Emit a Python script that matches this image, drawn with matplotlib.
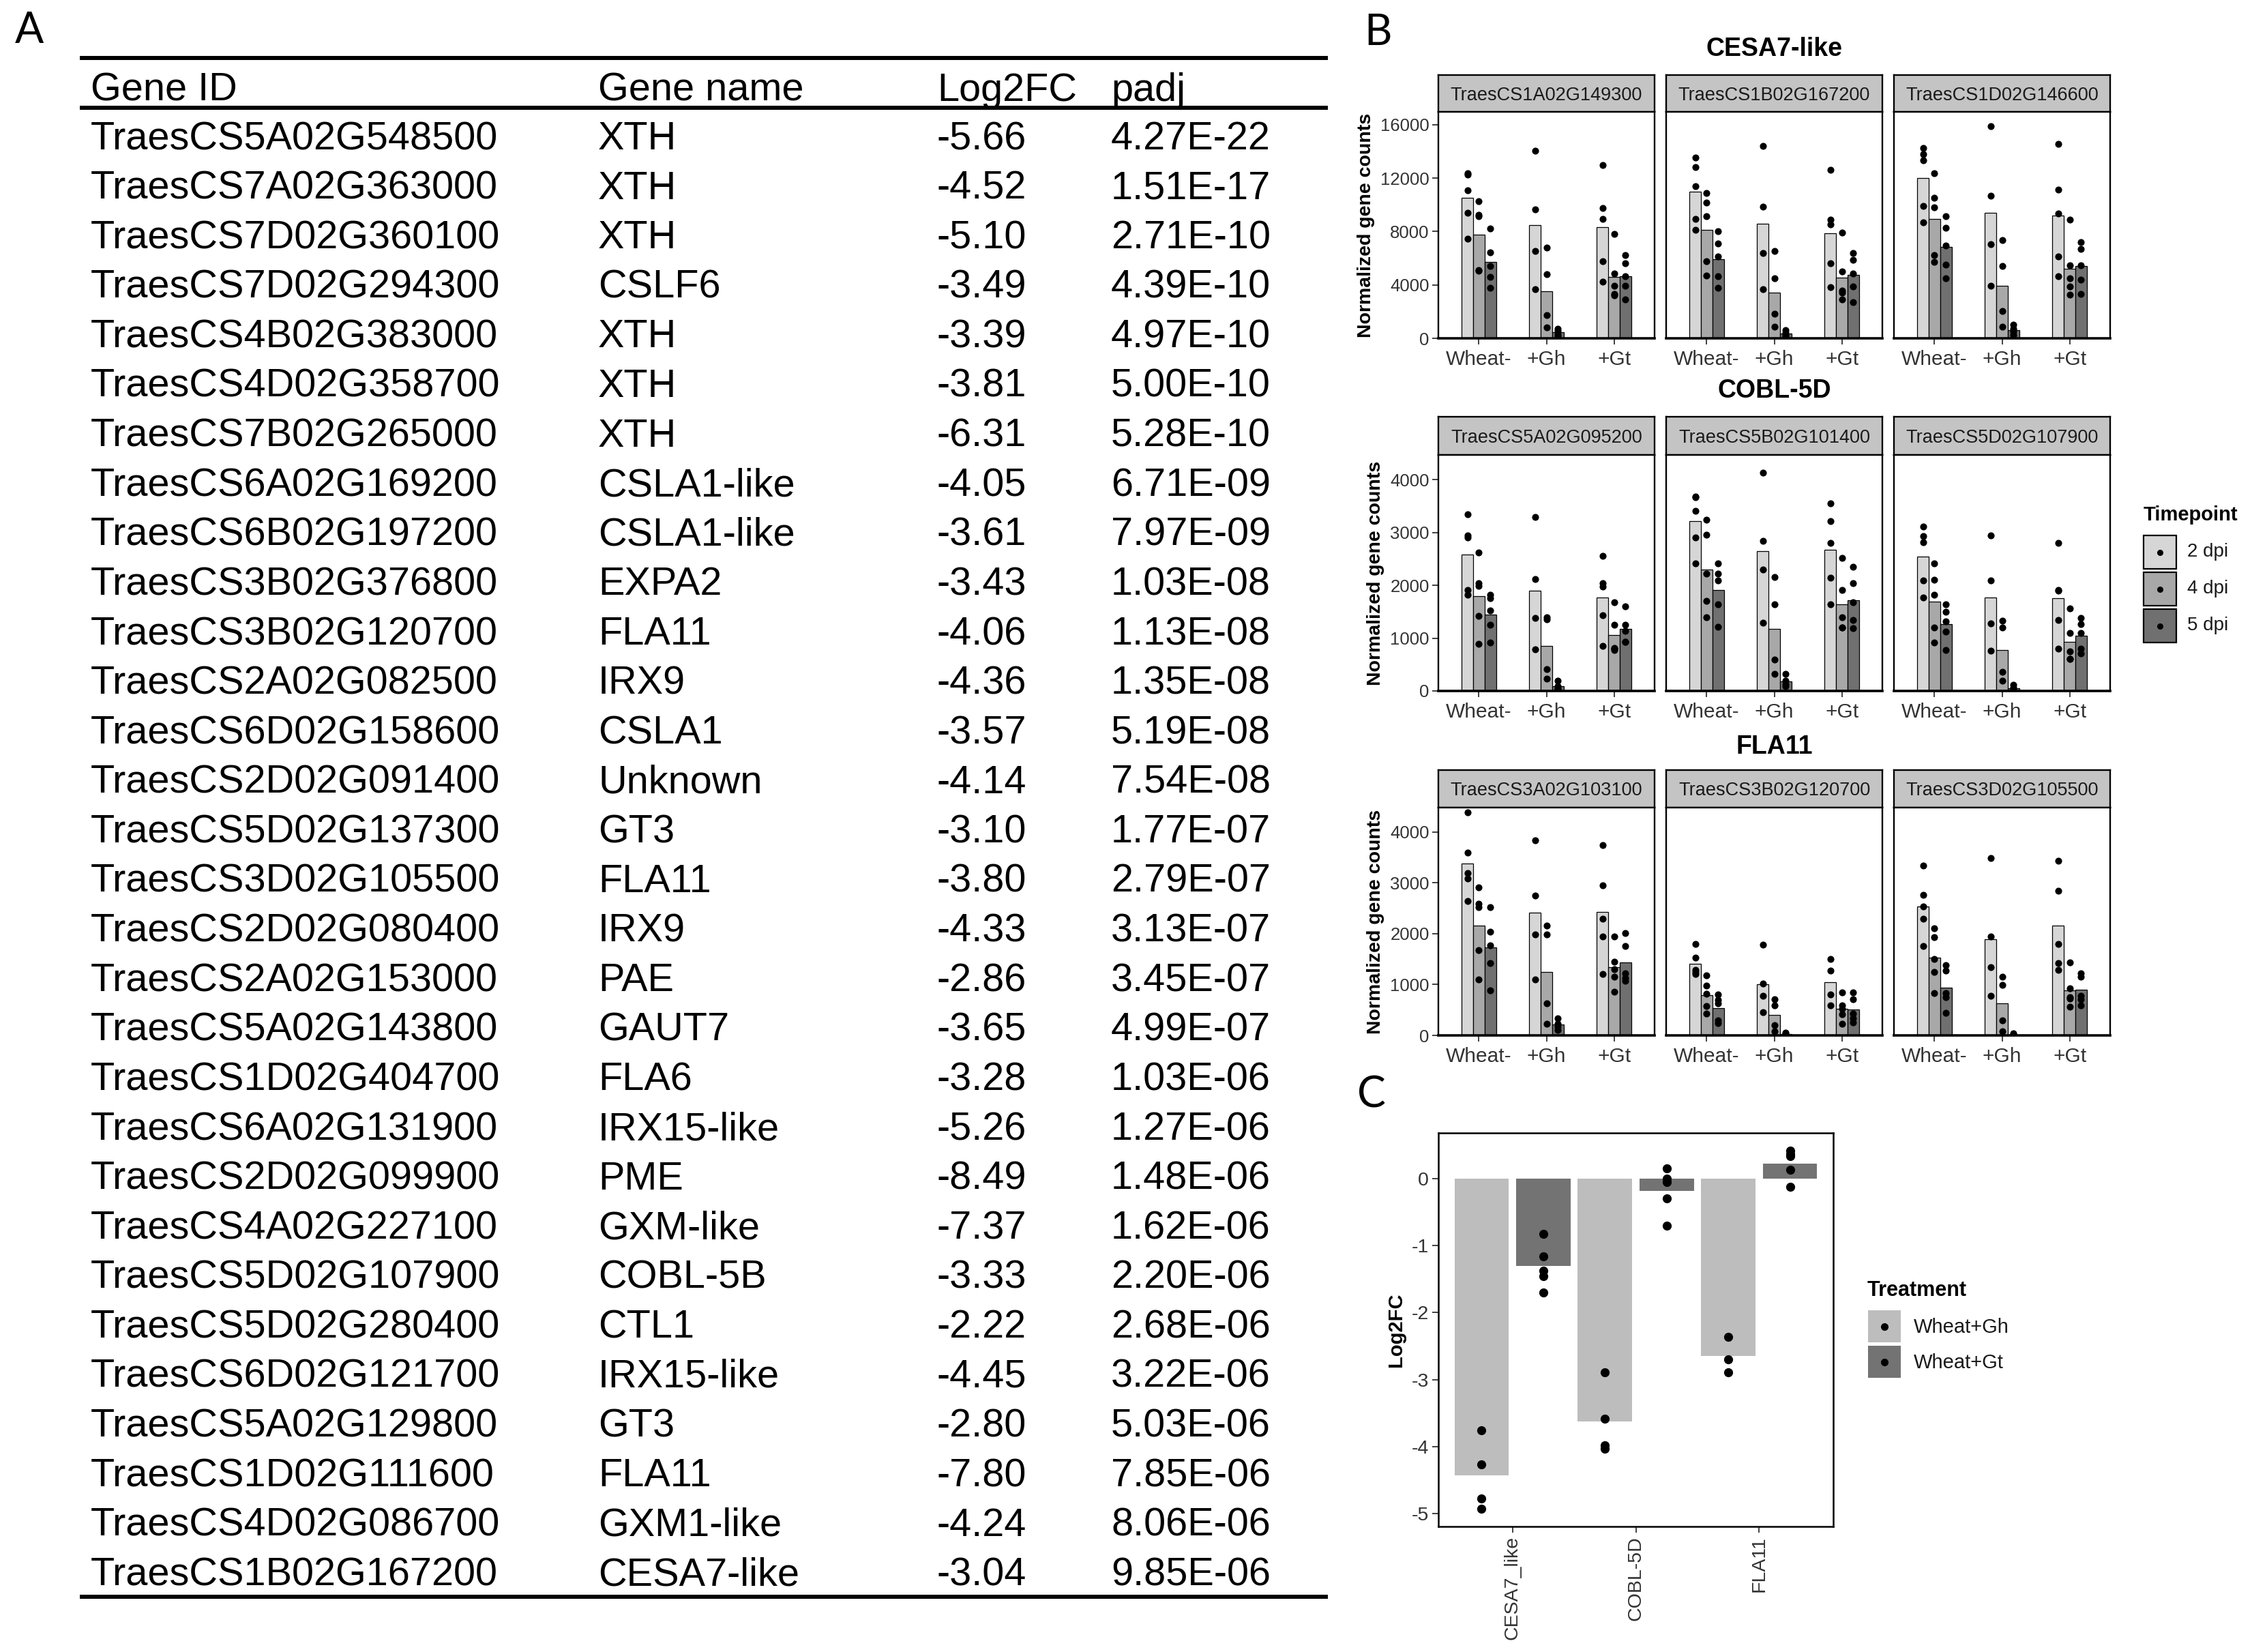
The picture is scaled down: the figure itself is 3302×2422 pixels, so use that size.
import numpy as np
import matplotlib
matplotlib.use("Agg")
import matplotlib.pyplot as plt
from matplotlib.patches import Rectangle

plt.rcParams['font.family'] = ['Liberation Sans', 'DejaVu Sans']

# ---------------- panel A : table ----------------
table_header = ["Gene ID", "Gene name", "Log2FC", "padj"]
gene_ids = ["TraesCS5A02G548500", "TraesCS7A02G363000", "TraesCS7D02G360100", "TraesCS7D02G294300",
            "TraesCS4B02G383000", "TraesCS4D02G358700", "TraesCS7B02G265000", "TraesCS6A02G169200",
            "TraesCS6B02G197200", "TraesCS3B02G376800", "TraesCS3B02G120700", "TraesCS2A02G082500",
            "TraesCS6D02G158600", "TraesCS2D02G091400", "TraesCS5D02G137300", "TraesCS3D02G105500",
            "TraesCS2D02G080400", "TraesCS2A02G153000", "TraesCS5A02G143800", "TraesCS1D02G404700",
            "TraesCS6A02G131900", "TraesCS2D02G099900", "TraesCS4A02G227100", "TraesCS5D02G107900",
            "TraesCS5D02G280400", "TraesCS6D02G121700", "TraesCS5A02G129800", "TraesCS1D02G111600",
            "TraesCS4D02G086700", "TraesCS1B02G167200"]
gene_names = ["XTH", "XTH", "XTH", "CSLF6", "XTH", "XTH", "XTH", "CSLA1-like", "CSLA1-like", "EXPA2",
              "FLA11", "IRX9", "CSLA1", "Unknown", "GT3", "FLA11", "IRX9", "PAE", "GAUT7", "FLA6",
              "IRX15-like", "PME", "GXM-like", "COBL-5B", "CTL1", "IRX15-like", "GT3", "FLA11",
              "GXM1-like", "CESA7-like"]
log2fc = [-5.66, -4.52, -5.10, -3.49, -3.39, -3.81, -6.31, -4.05, -3.61, -3.43, -4.06, -4.36, -3.57,
          -4.14, -3.10, -3.80, -4.33, -2.86, -3.65, -3.28, -5.26, -8.49, -7.37, -3.33, -2.22, -4.45,
          -2.80, -7.80, -4.24, -3.04]
padj = [4.27e-22, 1.51e-17, 2.71e-10, 4.39e-10, 4.97e-10, 5.00e-10, 5.28e-10, 6.71e-09, 7.97e-09,
        1.03e-08, 1.13e-08, 1.35e-08, 5.19e-08, 7.54e-08, 1.77e-07, 2.79e-07, 3.13e-07, 3.45e-07,
        4.99e-07, 1.03e-06, 1.27e-06, 1.48e-06, 1.62e-06, 2.20e-06, 2.68e-06, 3.22e-06, 5.03e-06,
        7.85e-06, 8.06e-06, 9.85e-06]

# ---------------- panel B : normalized counts ----------------
treatments = ["Wheat-", "+Gh", "+Gt"]
timepoints = ["2 dpi", "4 dpi", "5 dpi"]
tp_colors = ["#d6d6d6", "#a8a8a8", "#707070"]

# each gene: [treatment][timepoint] -> replicate counts
TraesCS1A02G149300 = [
    [[12370, 12250, 11110, 9390, 7440], [10290, 9250, 9150, 5120, 5050], [8240, 6450, 5430, 4610, 3805]],
    [[14080, 9640, 6540, 3670], [6790, 4830, 1720, 820], [730, 560, 330, 160]],
    [[12970, 9740, 8925, 5770, 4230], [7815, 4860, 3940, 3300, 3210], [6230, 5600, 4660, 3940, 2900]],
]
TraesCS1B02G167200 = [
    [[13570, 12830, 11420, 8960, 8120], [10900, 10190, 9170, 5800, 4690], [8050, 7120, 6150, 4660, 3780]],
    [[14410, 9840, 6410, 3690], [6540, 4480, 1850, 880], [620, 400, 250, 130]],
    [[12620, 8880, 8520, 5620, 3810], [7910, 5010, 3600, 3450, 2900], [6410, 5890, 4870, 3870, 2720]],
]
TraesCS1D02G146600 = [
    [[14240, 13800, 13360, 9930, 8700], [12390, 10540, 9800, 6240, 5710], [9140, 8260, 6940, 5540, 4480]],
    [[15900, 10670, 7030, 3950], [7380, 5410, 2020, 880], [1000, 720, 500, 240]],
    [[14550, 11160, 9370, 6150, 4660], [8880, 5450, 4480, 3900, 3250], [7210, 6680, 5450, 4390, 3340]],
]
TraesCS5A02G095200 = [
    [[3340, 2946, 2903, 1914, 1815], [2624, 2043, 1990, 1420, 890], [1819, 1750, 1518, 1247, 916]],
    [[3286, 2116, 1376, 787], [1389, 1360, 409, 230], [190, 90, 60, 40]],
    [[2560, 2043, 1980, 1428, 852], [1677, 1247, 816, 796, 774], [1604, 1250, 1140, 930, 925]],
]
TraesCS5B02G101400 = [
    [[3677, 3660, 3406, 2903, 2417], [3234, 2955, 2215, 1699, 1398], [2417, 2215, 2086, 1634, 1217]],
    [[4129, 2839, 2301, 1290], [2159, 1634, 589, 323], [323, 200, 130, 90]],
    [[3548, 3217, 2804, 2142, 1634], [2516, 1914, 1398, 1200, 1196], [2353, 2043, 1677, 1346, 1183]],
]
TraesCS5D02G107900 = [
    [[3110, 2925, 2817, 2086, 1763], [2417, 2108, 1819, 1204, 912], [1634, 1500, 1320, 1118, 774]],
    [[2946, 2086, 1282, 766], [1333, 1204, 366, 194], [110, 60, 30, 10]],
    [[2796, 1914, 1900, 1346, 796], [1561, 1097, 753, 610, 602], [1385, 1269, 1097, 796, 710]],
]
TraesCS3A02G103100 = [
    [[4381, 3600, 3195, 3079, 2637], [2907, 2591, 2521, 1674, 1102], [2521, 2033, 1777, 1428, 884]],
    [[3837, 2744, 1986, 1102], [2158, 1986, 637, 233], [330, 230, 170, 110]],
    [[3744, 2953, 2298, 1940, 1209], [1940, 1451, 1300, 1150, 860], [2009, 1753, 1219, 1130, 1079]],
]
TraesCS3B02G120700 = [
    [[1791, 1530, 1288, 1250, 1205], [1181, 977, 823, 577, 428], [800, 700, 637, 300, 242]],
    [[1786, 1014, 780, 453], [710, 593, 206, 80], [60, 30, 25, 15]],
    [[1505, 1280, 804, 593], [850, 593, 523, 420, 233], [850, 710, 430, 336, 250]],
]
TraesCS3D02G105500 = [
    [[3336, 2766, 2533, 2300, 1762], [2103, 1935, 1505, 1248, 827], [1388, 1271, 827, 757, 439]],
    [[3481, 1949, 1341, 780], [1154, 990, 290, 80], [40, 20, 10, 5]],
    [[3430, 2850, 1799, 1425, 1285], [1435, 920, 757, 730, 570], [1224, 1154, 780, 710, 593]],
]

row_titles = ["CESA7-like", "COBL-5D", "FLA11"]
row_genes = [["TraesCS1A02G149300", "TraesCS1B02G167200", "TraesCS1D02G146600"],
             ["TraesCS5A02G095200", "TraesCS5B02G101400", "TraesCS5D02G107900"],
             ["TraesCS3A02G103100", "TraesCS3B02G120700", "TraesCS3D02G105500"]]
row_data = [[TraesCS1A02G149300, TraesCS1B02G167200, TraesCS1D02G146600],
            [TraesCS5A02G095200, TraesCS5B02G101400, TraesCS5D02G107900],
            [TraesCS3A02G103100, TraesCS3B02G120700, TraesCS3D02G105500]]
row_yticks = [[0, 4000, 8000, 12000, 16000], [0, 1000, 2000, 3000, 4000], [0, 1000, 2000, 3000, 4000]]
row_ymax = [16970, 4465, 4480]

# ---------------- panel C : log2FC ----------------
c_genes = ["CESA7_like", "COBL-5D", "FLA11"]
c_treat = ["Wheat+Gh", "Wheat+Gt"]
c_colors = ["#bdbdbd", "#737373"]
c_gh = [[-3.76, -4.26, -4.77, -4.93], [-2.89, -3.58, -3.98, -4.03], [-2.36, -2.70, -2.89]]
c_gt = [[-0.83, -1.16, -1.37, -1.46, -1.70], [0.15, 0.0, -0.05, -0.30, -0.70], [0.42, 0.36, 0.33, 0.13, -0.12]]

W, H = 3302, 2422
TXT = "#1a1a1a"


def box(x0, y0, x1, y1):
    return [x0 / W, 1 - y1 / H, (x1 - x0) / W, (y1 - y0) / H]


def main():
    fig = plt.figure(figsize=(W / 100, H / 100), dpi=100)
    bg = fig.add_axes([0, 0, 1, 1])
    bg.set_xlim(0, W)
    bg.set_ylim(H, 0)
    bg.axis("off")

    # panel letters
    for lab, x, y in [("A", 22, 45), ("B", 2000, 48), ("C", 1990, 1605)]:
        bg.text(x, y, lab, fontsize=45, family=["Lato", "DejaVu Sans"], va="center", ha="left")

    # ---- table ----
    col_x = [133, 877, 1374, 1629]
    fs = 41.5
    for cx, h in zip(col_x, table_header):
        bg.text(cx, 127 + 21, h, fontsize=fs, va="baseline", ha="left")
    for i in range(len(gene_ids)):
        yb = 198 + i * 72.6 + 21
        vals = [gene_ids[i], gene_names[i], "%.2f" % log2fc[i], "%.2E" % padj[i]]
        for cx, v in zip(col_x, vals):
            bg.text(cx, yb, v, fontsize=fs, va="baseline", ha="left")
    for yy in [85, 158, 2341]:
        bg.plot([117, 1947], [yy, yy], color="black", lw=4.3, solid_capstyle="butt")

    # ---- panel B ----
    cols_x = [(2109, 2426), (2443, 2760), (2777, 3094)]
    rows_y = [(110, 164, 496), (611, 667, 1013), (1129, 1184, 1518)]
    titles_y = [72, 573, 1095]
    bw = 0.17
    for r in range(3):
        st0, st1, pb = rows_y[r]
        bg.text((cols_x[0][0] + cols_x[2][1]) / 2, titles_y[r], row_titles[r], fontsize=27,
                weight="bold", ha="center", va="center")
        for c in range(3):
            x0, x1 = cols_x[c]
            sx = fig.add_axes(box(x0, st0, x1, st1))
            sx.set_facecolor("#c4c4c4")
            sx.set_xticks([])
            sx.set_yticks([])
            for s in sx.spines.values():
                s.set_linewidth(1.7)
                s.set_color("black")
            sx.text(0.5, 0.45, row_genes[r][c], transform=sx.transAxes, ha="center", va="center",
                    fontsize=19.5, color=TXT)

            ax = fig.add_axes(box(x0, st1, x1, pb))
            gene = row_data[r][c]
            for t in range(3):
                for k in range(3):
                    reps = gene[t][k]
                    xp = t + 1 + (k - 1) * bw
                    ax.bar(xp, np.mean(reps), width=bw, color=tp_colors[k], edgecolor="black",
                           linewidth=0.9, zorder=2)
                    ax.plot([xp] * len(reps), reps, "o", ms=6.3, color="black", zorder=3)
            ax.set_xlim(0.4, 3.6)
            ax.set_ylim(0, row_ymax[r])
            ax.set_xticks([1, 2, 3])
            ax.set_xticklabels(treatments, fontsize=21.5, color=TXT)
            for s in ax.spines.values():
                s.set_linewidth(1.7)
                s.set_color("black")
            ax.spines["bottom"].set_linewidth(2.6)
            ax.tick_params(axis="x", direction="out", length=6.5, width=1.3, pad=6, colors="#333333")
            if c == 0:
                ax.set_yticks(row_yticks[r])
                ax.set_yticklabels([str(v) for v in row_yticks[r]], fontsize=18.5, color="#333333")
                ax.tick_params(axis="y", direction="out", length=6.5, width=1.3, pad=3, colors="#333333")
                ax.set_ylabel("Normalized gene counts", fontsize=20.5, weight="bold", labelpad=6)
            else:
                ax.set_yticks([])

    # Timepoint legend
    bg.text(3143, 755, "Timepoint", fontsize=21, weight="bold", ha="left", va="center")
    key_y = [785, 839, 893]
    for k in range(3):
        bg.add_patch(Rectangle((3143, key_y[k]), 48, 49, facecolor=tp_colors[k], edgecolor="black", lw=1.6))
        bg.plot(3167, key_y[k] + 24.5, "o", ms=5.5, color="black")
        bg.text(3207, key_y[k] + 24.5, timepoints[k], fontsize=20, ha="left", va="center", color=TXT)

    # ---- panel C ----
    axc = fig.add_axes(box(2109, 1661, 2688, 2238))
    off = [-0.25, 0.25]
    for j, vals in enumerate([c_gh, c_gt]):
        for i in range(3):
            xp = i + 1 + off[j]
            axc.bar(xp, np.mean(vals[i]), width=0.44, color=c_colors[j], zorder=2)
            axc.plot([xp] * len(vals[i]), vals[i], "o", ms=8.5, color="black", zorder=3)
    axc.set_xlim(0.4, 3.6)
    axc.set_ylim(-5.19, 0.68)
    axc.set_yticks([-5, -4, -3, -2, -1, 0])
    axc.set_yticklabels(["-5", "-4", "-3", "-2", "-1", "0"], fontsize=20.5, color="#333333")
    axc.set_xticks([1, 2, 3])
    axc.set_xticklabels(c_genes, rotation=90, fontsize=20.5, color="#333333")
    axc.tick_params(direction="out", length=6.5, width=1.3, colors="#333333")
    for s in axc.spines.values():
        s.set_linewidth(1.8)
        s.set_color("black")
    axc.set_ylabel("Log2FC", fontsize=21, weight="bold", labelpad=6)

    # Treatment legend
    bg.text(2738, 1892, "Treatment", fontsize=22, weight="bold", ha="left", va="center")
    for j, ky in enumerate([1921, 1973]):
        bg.add_patch(Rectangle((2739, ky), 48, 47, facecolor=c_colors[j], edgecolor="none"))
        bg.plot(2763, ky + 23.5, "o", ms=7, color="black")
        bg.text(2806, ky + 25, c_treat[j], fontsize=21, ha="left", va="center", color=TXT)

    fig.savefig("out.png", dpi=100)


if __name__ == '__main__':
    main()
